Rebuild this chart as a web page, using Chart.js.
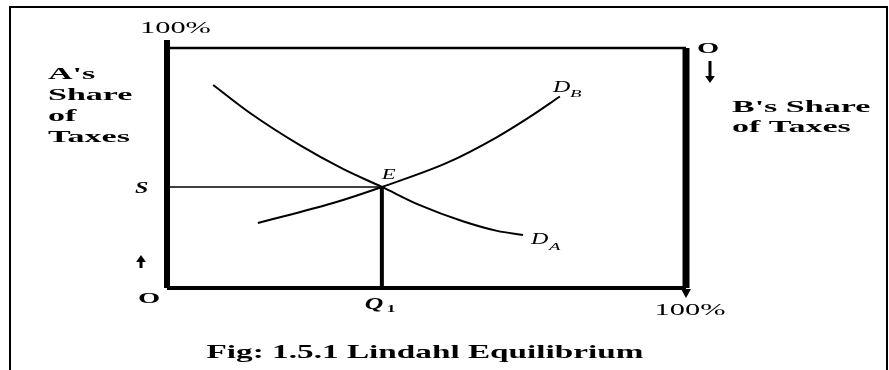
<!DOCTYPE html>
<html>
<head>
<meta charset="utf-8">
<script src="https://cdn.jsdelivr.net/npm/chart.js@4/dist/chart.umd.min.js"></script>
<style>
  html, body { margin: 0; padding: 0; background: #fff; }
  #wrap { width: 889px; height: 370px; }
</style>
</head>
<body>
<div id="wrap"><canvas id="lindahl" width="889" height="370"></canvas></div>
<script>
// curves (x = quantity %, y = A's share of taxes %)
const demandAX = [8.9, 16.0, 25.6, 33.9, 41.4, 48.7, 57.0, 63.6, 68.6];
const demandAY = [84.6, 72.9, 59.5, 49.6, 42.1, 34.5, 27.8, 23.8, 22.1];
const demandBX = [17.5, 32.0, 41.4, 53.9, 63.6, 69.9, 75.7];
const demandBY = [27.1, 35.4, 42.1, 52.1, 62.9, 71.3, 79.8];
const equilibriumX = 41.4;
const equilibriumY = 42.1;
const axisMin = 0;
const axisMax = 100;

const pts = (xs, ys) => xs.map((x, i) => ({ x: x, y: ys[i] }));

const serif = '"Liberation Serif", "DejaVu Serif", serif';

function wideText(ctx, text, x, y, font, sx, align) {
  ctx.save();
  ctx.font = font;
  ctx.fillStyle = '#000';
  ctx.textAlign = align || 'left';
  ctx.textBaseline = 'alphabetic';
  ctx.translate(x, y);
  ctx.scale(sx, 1);
  ctx.fillText(text, 0, 0);
  ctx.restore();
}

function arrow(ctx, x, y1, y2, head) {
  const dir = y2 > y1 ? 1 : -1;
  ctx.save();
  ctx.strokeStyle = '#000';
  ctx.fillStyle = '#000';
  ctx.lineWidth = 3;
  ctx.beginPath();
  ctx.moveTo(x, y1);
  ctx.lineTo(x, y2 - dir * head);
  ctx.stroke();
  ctx.beginPath();
  ctx.moveTo(x - head * 0.7, y2 - dir * head);
  ctx.lineTo(x + head * 0.7, y2 - dir * head);
  ctx.lineTo(x, y2);
  ctx.closePath();
  ctx.fill();
  ctx.restore();
}

const labelsPlugin = {
  id: 'labels',
  afterDraw(chart) {
    const ctx = chart.ctx;
    const xs = chart.scales.x, ys = chart.scales.y;
    const left = xs.getPixelForValue(axisMin), right = xs.getPixelForValue(axisMax);
    const top = ys.getPixelForValue(axisMax), bottom = ys.getPixelForValue(axisMin);
    const ex = xs.getPixelForValue(equilibriumX), ey = ys.getPixelForValue(equilibriumY);

    // outer frame
    ctx.save();
    ctx.strokeStyle = '#000';
    ctx.lineWidth = 2;
    ctx.beginPath();
    ctx.moveTo(10, 370);
    ctx.lineTo(10, 7);
    ctx.lineTo(887, 7);
    ctx.lineTo(887, 370);
    ctx.stroke();
    ctx.restore();

    const bold17 = 'bold 17px ' + serif;
    wideText(ctx, '100%', left - 27, top - 15, '16px ' + serif, 1.9);
    wideText(ctx, "A's", 48, 79, bold17, 2.0);
    wideText(ctx, 'Share', 48, 100, bold17, 2.0);
    wideText(ctx, 'of', 48, 121, bold17, 2.0);
    wideText(ctx, 'Taxes', 48, 142, bold17, 2.0);
    wideText(ctx, 'S', left - 32, ey + 6, 'italic bold 16px ' + serif, 1.5);
    arrow(ctx, left - 26, bottom - 20, bottom - 33, 7);
    wideText(ctx, 'O', left - 29, bottom + 15, 'bold 15px ' + serif, 1.9);

    wideText(ctx, 'O', right + 11, top + 5, 'bold 15px ' + serif, 1.9);
    arrow(ctx, right + 24, top + 13, top + 35, 7);
    wideText(ctx, "B's Share", 732, 112, bold17, 2.0);
    wideText(ctx, 'of Taxes', 732, 132, bold17, 2.0);

    // arrow tip under the right axis
    ctx.save();
    ctx.fillStyle = '#000';
    ctx.beginPath();
    ctx.moveTo(right - 5, bottom + 1);
    ctx.lineTo(right + 5, bottom + 1);
    ctx.lineTo(right, bottom + 10);
    ctx.closePath();
    ctx.fill();
    ctx.restore();
    wideText(ctx, '100%', right + 4, bottom + 27, '16px ' + serif, 1.9, 'center');

    wideText(ctx, 'Q', ex - 17, bottom + 21, 'italic bold 16px ' + serif, 1.6);
    wideText(ctx, '1', ex + 5, bottom + 24, 'bold 11px ' + serif, 1.6);
    wideText(ctx, 'E', ex, ey - 8, 'italic 15px ' + serif, 1.5);

    const db = { x: xs.getPixelForValue(demandBX[demandBX.length - 1]), y: ys.getPixelForValue(demandBY[demandBY.length - 1]) };
    wideText(ctx, 'D', db.x - 7, db.y - 4, 'italic 16px ' + serif, 1.5);
    wideText(ctx, 'B', db.x + 10, db.y + 1, 'italic 11px ' + serif, 1.7);
    const da = { x: xs.getPixelForValue(demandAX[demandAX.length - 1]), y: ys.getPixelForValue(demandAY[demandAY.length - 1]) };
    wideText(ctx, 'D', da.x + 8, da.y + 9, 'italic 16px ' + serif, 1.5);
    wideText(ctx, 'A', da.x + 26, da.y + 15, 'italic 11px ' + serif, 1.7);

    wideText(ctx, 'Fig: 1.5.1 Lindahl Equilibrium', 425, 358, 'bold 19px ' + serif, 1.75, 'center');
  }
};

const line = (data, width) => ({
  data: data,
  showLine: true,
  borderColor: '#000',
  borderWidth: width,
  pointRadius: 0,
  fill: false,
  clip: false,
  borderCapStyle: 'butt'
});

const curveA = line(pts(demandAX, demandAY), 2);
curveA.cubicInterpolationMode = 'monotone';
const curveB = line(pts(demandBX, demandBY), 2);
curveB.cubicInterpolationMode = 'monotone';

new Chart(document.getElementById('lindahl').getContext('2d'), {
  type: 'scatter',
  data: {
    datasets: [
      line([{ x: axisMin, y: axisMin }, { x: axisMin, y: axisMax + 3.3 }], 6),
      line([{ x: axisMin, y: axisMin }, { x: axisMax, y: axisMin }], 4),
      line([{ x: axisMin, y: axisMax }, { x: axisMax, y: axisMax }], 2.5),
      line([{ x: axisMax, y: axisMax }, { x: axisMax, y: axisMin }], 7),
      line([{ x: axisMin, y: equilibriumY }, { x: equilibriumX, y: equilibriumY }], 1.5),
      line([{ x: equilibriumX, y: axisMin }, { x: equilibriumX, y: equilibriumY }], 4),
      curveA,
      curveB
    ]
  },
  options: {
    responsive: false,
    animation: false,
    layout: { padding: { left: 167, top: 48, right: 203, bottom: 82 } },
    plugins: {
      legend: { display: false },
      tooltip: { enabled: false }
    },
    scales: {
      x: { type: 'linear', min: axisMin, max: axisMax, display: false },
      y: { type: 'linear', min: axisMin, max: axisMax, display: false }
    }
  },
  plugins: [labelsPlugin]
});
</script>
</body>
</html>
